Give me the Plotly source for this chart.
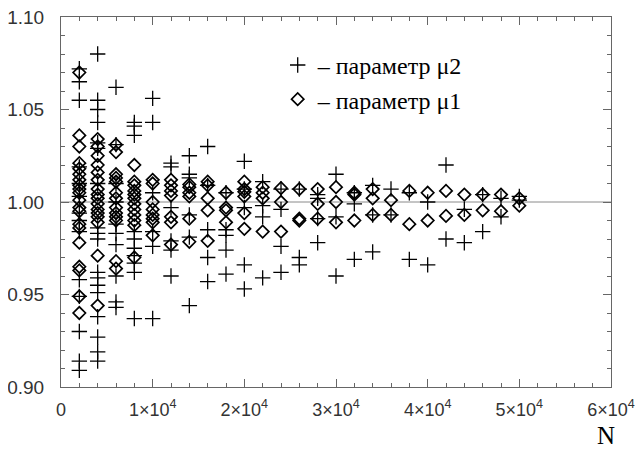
import plotly.graph_objects as go

# Sample sizes (columns of the scatter)
columns_n = [2000, 4000, 6000, 8000, 10000, 12000, 14000, 16000, 18000, 20000,
             22000, 24000, 26000, 28000, 30000, 32000, 34000, 36000, 38000, 40000,
             42000, 44000, 46000, 48000, 50000]

# parameter mu2 (plus markers), one list per column
mu2_values = [
    [1.072, 1.065, 1.055, 1.019, 1.010, 1.003, 0.994, 0.990, 0.984, 0.958, 0.949, 0.930, 0.914, 0.909],
    [1.080, 1.055, 1.050, 1.043, 1.032, 1.029, 1.010, 0.986, 0.983, 0.980, 0.962, 0.959, 0.955, 0.951, 0.938, 0.927, 0.919, 0.914],
    [1.062, 1.031, 1.010, 1.000, 0.988, 0.983, 0.977, 0.960, 0.946, 0.943],
    [1.043, 1.041, 1.036, 0.984, 0.980, 0.975, 0.971, 0.967, 0.962, 0.937],
    [1.056, 1.043, 1.005, 0.984, 0.976, 0.937],
    [1.021, 1.019, 0.997, 0.979, 0.974, 0.960],
    [1.025, 1.015, 1.013, 0.993, 0.981, 0.944],
    [1.030, 1.009, 0.985, 0.970, 0.957],
    [1.005, 0.985, 0.982, 0.974, 0.961],
    [1.022, 1.007, 0.997, 0.966, 0.953],
    [1.011, 0.998, 0.992, 0.959],
    [1.007, 0.996, 0.976, 0.962],
    [1.007, 0.970, 0.966],
    [1.004, 1.002, 0.991, 0.978],
    [1.015, 0.992, 0.960],
    [1.005, 0.999, 0.969],
    [1.009, 0.993, 0.973],
    [1.007, 0.993],
    [1.005, 0.969],
    [1.000, 0.966],
    [1.020, 0.980],
    [0.996, 0.978],
    [1.004, 0.984],
    [1.002, 0.992],
    [1.003, 1.001],
]

# parameter mu1 (diamond markers), one list per column
mu1_values = [
    [1.070, 1.036, 1.030, 1.021, 1.018, 1.015, 1.012, 1.009, 1.007, 1.005, 1.001, 0.997, 0.995, 0.988, 0.986, 0.978, 0.965, 0.963, 0.949, 0.940],
    [1.034, 1.030, 1.025, 1.020, 1.016, 1.012, 1.007, 1.004, 1.002, 0.999, 0.996, 0.994, 0.992, 0.989, 0.971, 0.944],
    [1.031, 1.027, 1.015, 1.013, 1.011, 1.005, 1.002, 0.997, 0.994, 0.992, 0.990, 0.968, 0.964],
    [1.020, 1.011, 1.009, 1.006, 1.004, 1.002, 0.999, 0.996, 0.993, 0.990, 0.9875, 0.970],
    [1.012, 1.010, 1.000, 0.996, 0.993, 0.991, 0.989, 0.982],
    [1.012, 1.009, 1.006, 1.0035, 0.992, 0.989, 0.977],
    [1.0095, 1.008, 1.005, 1.003, 0.991, 0.9785],
    [1.011, 1.009, 1.002, 0.9955, 0.979],
    [1.005, 0.997, 0.9955, 0.989],
    [1.011, 1.007, 1.0055, 1.003, 0.994, 0.9855],
    [1.008, 1.005, 1.002, 0.984],
    [1.0075, 1.000, 0.984],
    [1.007, 0.991, 0.990],
    [1.007, 0.999, 0.991],
    [1.008, 1.000, 0.989],
    [1.005, 1.004, 0.990],
    [1.007, 1.002, 0.993],
    [1.001, 0.993],
    [1.006, 0.988],
    [1.005, 0.990],
    [1.006, 0.9925],
    [1.004, 0.993],
    [1.004, 0.9955],
    [1.004, 0.995],
    [1.002, 0.998],
]

x_tickvals = [0, 10000, 20000, 30000, 40000, 50000, 60000]
x_ticktext = ["0", "1×10<sup>4</sup>", "2×10<sup>4</sup>", "3×10<sup>4</sup>",
              "4×10<sup>4</sup>", "5×10<sup>4</sup>", "6×10<sup>4</sup>"]
y_tickvals = [0.90, 0.95, 1.00, 1.05, 1.10]

legend_mu2 = "– параметр μ2"
legend_mu1 = "– параметр μ1"
x_title = "N"


def flatten(cols, vals):
    xs, ys = [], []
    for n, vs in zip(cols, vals):
        for v in vs:
            xs.append(n)
            ys.append(v)
    return xs, ys


x2, y2 = flatten(columns_n, mu2_values)
x1, y1 = flatten(columns_n, mu1_values)

fig = go.Figure()
fig.add_trace(go.Scatter(
    x=x2, y=y2, mode="markers", name=legend_mu2,
    marker=dict(symbol="cross-thin-open", size=11, color="black",
                line=dict(color="black", width=1.3)),
))
fig.add_trace(go.Scatter(
    x=x1, y=y1, mode="markers", name=legend_mu1,
    marker=dict(symbol="diamond-open", size=9.5, color="black",
                line=dict(color="black", width=1.7)),
))

fig.add_hline(y=1.0, line=dict(color="#8a8a8a", width=1), layer="below")

axis_common = dict(
    showgrid=False, zeroline=False, showline=True, linecolor="#666666", linewidth=1,
    mirror="ticks", ticks="inside", ticklen=8, tickcolor="#666666", tickwidth=1,
    automargin=False, ticklabeloverflow="allow",
)

fig.update_xaxes(
    range=[0, 60000], tickvals=x_tickvals, ticktext=x_ticktext,
    minor=dict(ticks="inside", ticklen=4, dtick=2000, tickcolor="#666666"),
    tickfont=dict(family="Liberation Sans, Arial, sans-serif", size=18, color="#333333"),
    ticklabelstandoff=6,
    **axis_common,
)
fig.update_yaxes(
    range=[0.90, 1.10], tickvals=y_tickvals, tickformat=".2f",
    minor=dict(ticks="inside", ticklen=4, dtick=0.01, tickcolor="#666666"),
    tickfont=dict(family="Liberation Sans, Arial, sans-serif", size=19, color="#333333"),
    ticklabelstandoff=12,
    **axis_common,
)

fig.add_annotation(
    text=x_title, xref="paper", yref="paper", x=0.991, y=-0.13,
    xanchor="center", yanchor="middle", showarrow=False,
    font=dict(family="Liberation Serif, Times New Roman, serif", size=25, color="black"),
)

# The page body adds an 8 px offset; the figure is sized so it fills the 643x451 window.
fig.update_layout(
    width=635, height=443,
    margin=dict(l=53, r=32, t=9, b=64),
    paper_bgcolor="white", plot_bgcolor="white",
    showlegend=True,
    legend=dict(
        x=0.394, y=0.93, xanchor="left", yanchor="top",
        bgcolor="rgba(0,0,0,0)", borderwidth=0,
        font=dict(family="Liberation Serif, Times New Roman, serif", size=24, color="black"),
        itemwidth=30, tracegroupgap=0,
    ),
)

fig.write_html("out.html")
